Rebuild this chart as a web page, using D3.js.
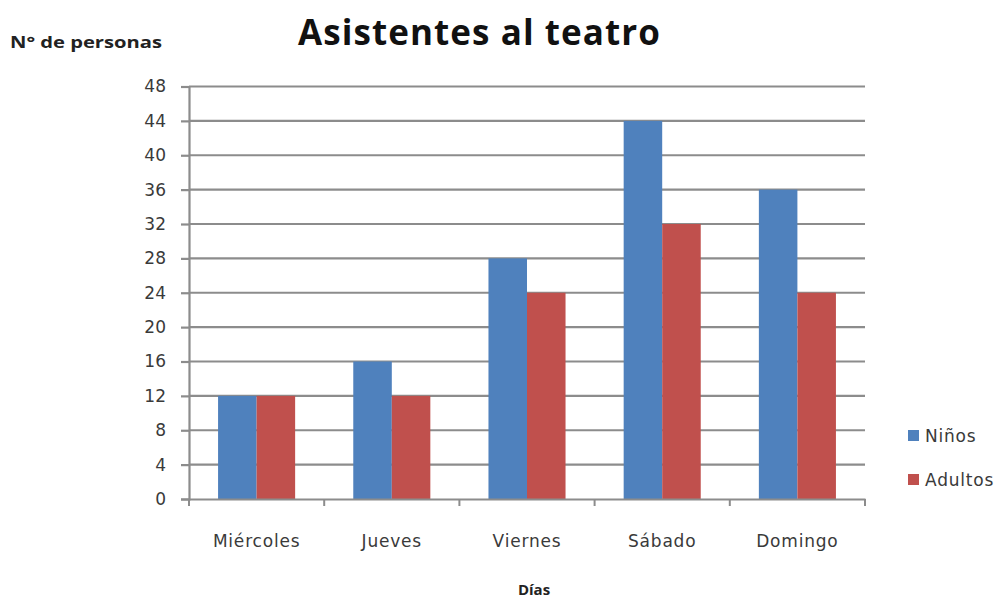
<!DOCTYPE html>
<html><head><meta charset="utf-8">
<script src="https://cdn.jsdelivr.net/npm/d3@7"></script>
<style>body{margin:0;background:#fff;} svg{display:block;font-family:"DejaVu Sans",sans-serif;}</style>
</head><body>
<svg id="c" width="1003" height="600"></svg>
<script>
const categories = ["Miércoles","Jueves","Viernes","Sábado","Domingo"];
const seriesNames = ["Niños","Adultos"];
const ninos = [12,16,28,44,36];
const adultos = [12,12,24,32,24];
const yTicks = [0,4,8,12,16,20,24,28,32,36,40,44,48];
const colors = ["#4f81bd","#c0504d"];

const svg = d3.select("#c");
const L=189, R=865, T=86.5, B=499;
const x = d3.scaleBand().domain(categories).range([L,R]).paddingInner(0.43).paddingOuter(0.215);
const xs = d3.scaleBand().domain(seriesNames).range([0,x.bandwidth()]);
const y = d3.scaleLinear().domain([0,48]).range([B,T]);
const grid = "#8c8c8c";

// gridlines
svg.append("g").selectAll("line").data(yTicks.filter(d=>d>0)).join("line")
  .attr("x1",L).attr("x2",R).attr("y1",d=>y(d)).attr("y2",d=>y(d))
  .attr("stroke",grid).attr("stroke-width",2.2);

// y axis
const ya = svg.append("g").attr("transform",`translate(${L},0)`)
  .call(d3.axisLeft(y).tickValues(yTicks).tickSize(8).tickPadding(15));
ya.select(".domain").attr("stroke",grid).attr("stroke-width",2.2);
ya.selectAll(".tick line").attr("stroke",grid).attr("stroke-width",2.2);
ya.selectAll("text").attr("font-size",17).attr("fill","#3a3a3a").attr("font-family","'DejaVu Sans',sans-serif");

// bars
const data = categories.map((c,i)=>({c, vals:[ninos[i],adultos[i]]}));
svg.append("g").selectAll("g").data(data).join("g")
  .attr("transform",d=>`translate(${x(d.c)},0)`)
  .selectAll("rect").data(d=>d.vals.map((v,j)=>({v,j}))).join("rect")
  .attr("x",d=>xs(seriesNames[d.j])).attr("width",xs.bandwidth())
  .attr("y",d=>y(d.v)).attr("height",d=>B-y(d.v))
  .attr("fill",d=>colors[d.j]);

// x axis
const xa = svg.append("g").attr("transform",`translate(0,${B})`)
  .call(d3.axisBottom(x).tickSize(0).tickPadding(36));
xa.select(".domain").attr("stroke",grid).attr("stroke-width",2.2);
xa.selectAll("text").attr("font-size",17).attr("letter-spacing","0.8px").attr("fill","#3a3a3a").attr("font-family","'DejaVu Sans',sans-serif");
// category boundary ticks
svg.append("g").selectAll("line").data(d3.range(categories.length+1)).join("line")
  .attr("x1",d=>L+d*x.step()).attr("x2",d=>L+d*x.step())
  .attr("y1",B).attr("y2",B+7).attr("stroke",grid).attr("stroke-width",2);

// titles
svg.append("text").attr("x",479).attr("y",45).attr("text-anchor","middle")
  .attr("font-family","'Open Sans',sans-serif")
  .attr("font-size",35).attr("font-weight","bold").attr("fill","#111")
  .attr("textLength",362).attr("lengthAdjust","spacing").text("Asistentes al teatro");
svg.append("text").attr("x",10).attr("y",48)
  .attr("font-family","'Open Sans',sans-serif")
  .attr("font-size",16).attr("font-weight","bold").attr("fill","#222")
  .attr("textLength",152).attr("lengthAdjust","spacingAndGlyphs").text("N° de personas");
svg.append("text").attr("x",534).attr("y",595).attr("text-anchor","middle")
  .attr("font-family","'Open Sans',sans-serif")
  .attr("font-size",15).attr("font-weight","bold").attr("fill","#222").text("Días");

// legend
const lg = svg.append("g").selectAll("g").data(seriesNames).join("g")
  .attr("transform",(d,i)=>`translate(908,${436+i*44})`);
lg.append("rect").attr("x",0).attr("y",-6).attr("width",11).attr("height",11).attr("fill",(d,i)=>colors[i]);
lg.append("text").attr("x",17).attr("y",6).attr("font-size",17).attr("letter-spacing","0.8px").attr("fill","#3a3a3a").text(d=>d);
</script>
</body></html>
